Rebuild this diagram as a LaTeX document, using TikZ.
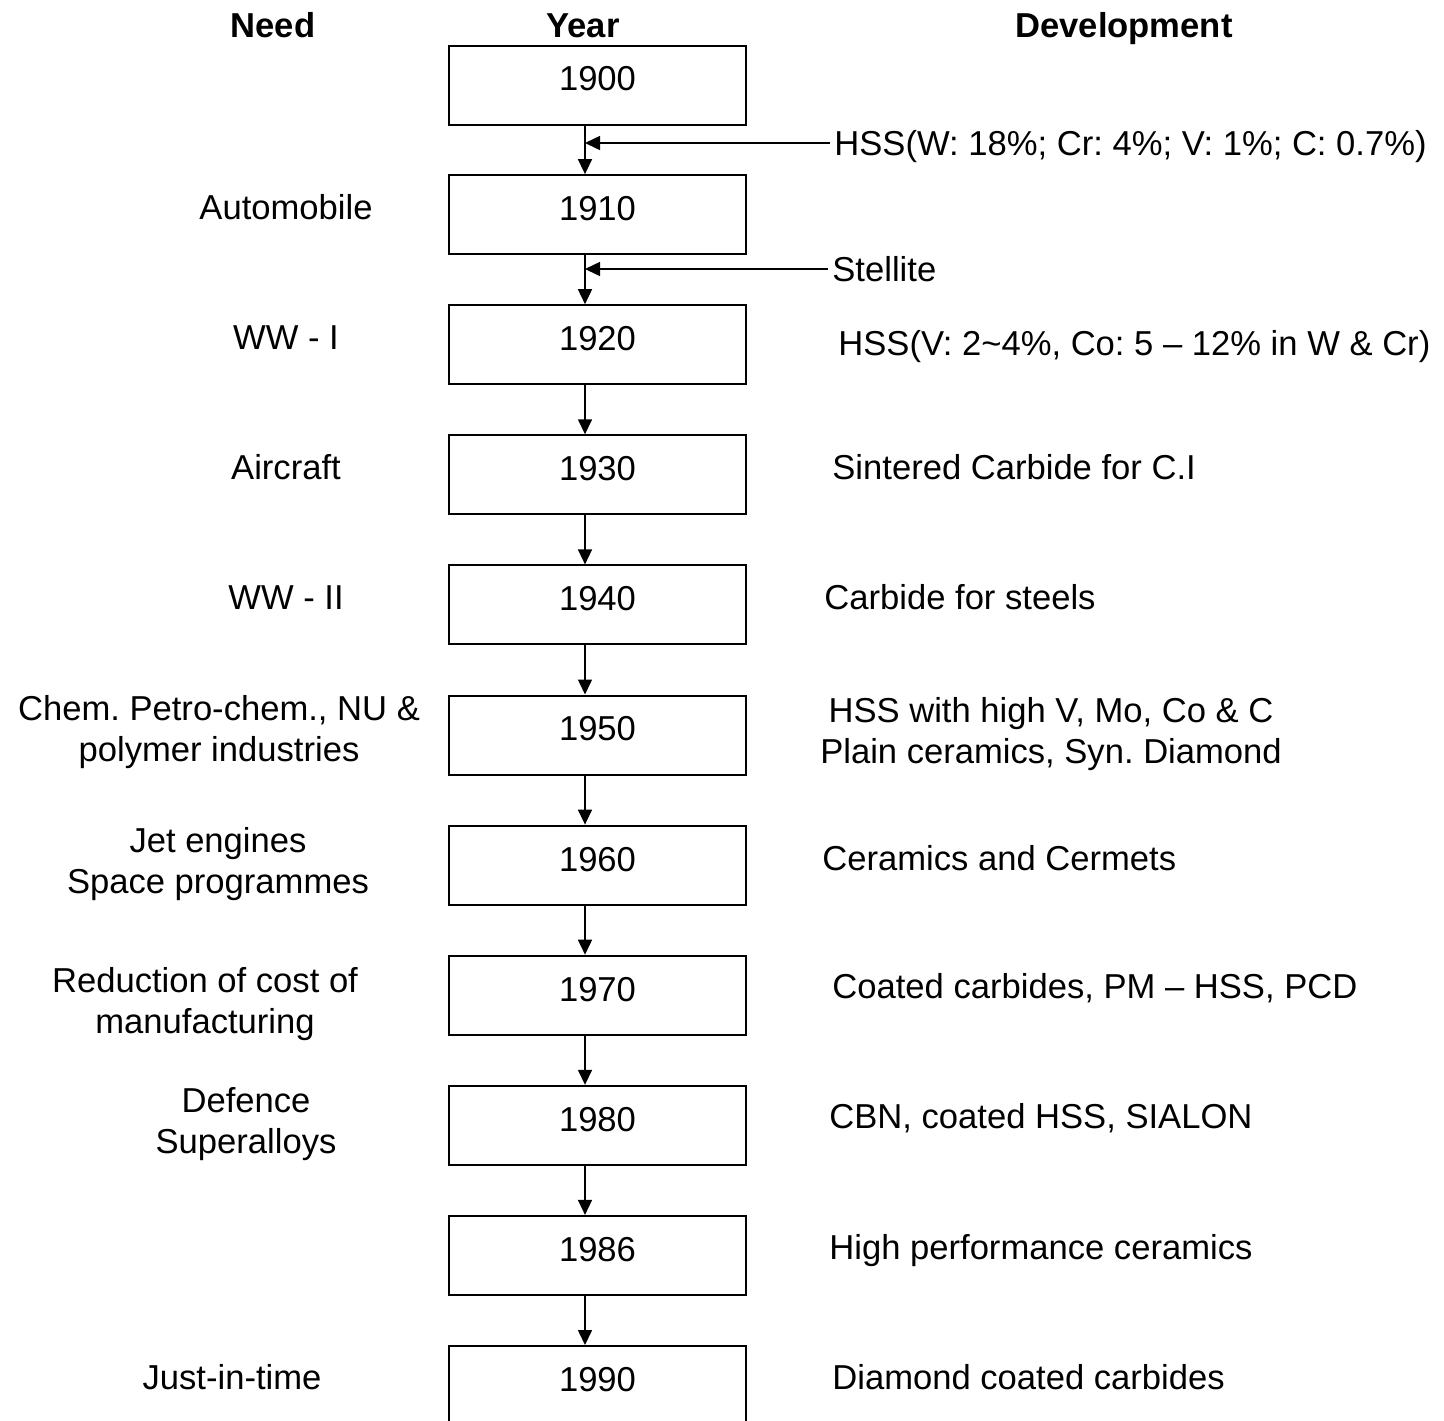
\documentclass[tikz,border=0pt]{standalone}
\usepackage{fontspec}
\setmainfont{Liberation Sans}
\usetikzlibrary{arrows.meta}
\newcommand\diafont{\frenchspacing\fontsize{17.3pt}{20.5pt}\selectfont}
\begin{document}
\frenchspacing
\begin{tikzpicture}[x=0.5pt,y=-0.5pt,
  yearbox/.style={draw,line width=1pt,minimum width=148.5pt,minimum height=39.5pt,inner sep=0pt,text height=12pt,text depth=6.1pt,font=\diafont},
  txt/.style={inner sep=2pt,text height=12.4pt,text depth=0pt,font=\diafont},
  txtl/.style={inner sep=2pt,align=center,font=\diafont},
  head/.style={inner sep=2pt,text height=12.4pt,text depth=0pt,font=\diafont\bfseries},
  arr/.style={line width=0.75pt,-{Triangle[length=7.5pt,width=7pt]}}]
\useasboundingbox (0,0) rectangle (1444,1420);
% headers
\node[head] (hneed) at (273,25) {Need};
\node[head] (hyear) at (583,25) {Year};
\node[head] (hdev) at (1124,25) {Development};
% year boxes
\node[yearbox] (b0) at (597.5,85) {1900};
\node[yearbox] (b1) at (597.5,214.6) {1910};
\node[yearbox] (b2) at (597.5,344.7) {1920};
\node[yearbox] (b3) at (597.5,474.8) {1930};
\node[yearbox] (b4) at (597.5,604.9) {1940};
\node[yearbox] (b5) at (597.5,735) {1950};
\node[yearbox] (b6) at (597.5,865.1) {1960};
\node[yearbox] (b7) at (597.5,995.2) {1970};
\node[yearbox] (b8) at (597.5,1125.3) {1980};
\node[yearbox] (b9) at (597.5,1255.4) {1986};
\node[yearbox] (b10) at (597.5,1385.5) {1990};
\coordinate (col) at (585,0);
% vertical arrows
\foreach \a/\b in {b0/b1,b1/b2,b2/b3,b3/b4,b4/b5,b5/b6,b6/b7,b7/b8,b8/b9,b9/b10}
  \draw[arr] (\a.south -| col) -- (\b.north -| col);
% needs
\node[txt] (n1) at (286,207) {Automobile};
\node[txt] (n2) at (286,337) {WW - I};
\node[txt] (n3) at (286,467) {Aircraft};
\node[txt] (n4) at (286,597) {WW - II};
\node[txtl] (n5) at (219,732) {Chem. Petro-chem., NU \&\\polymer industries};
\node[txtl] (n6) at (218,864) {Jet engines\\Space programmes};
\node[txtl] (n7) at (205,1004) {Reduction of cost of\\manufacturing};
\node[txtl] (n8) at (246,1124) {Defence\\Superalloys};
\node[txt] (n10) at (232,1377) {Just-in-time};
% developments
\node[txt,anchor=west] (d0) at (830,143) {HSS(W: 18\%; Cr: 4\%; V: 1\%; C: 0.7\%)};
\node[txt,anchor=west] (d1) at (828,269) {Stellite};
\node[txt,anchor=west] (d2) at (834,343) {HSS(V: 2\textasciitilde4\%, Co: 5 – 12\% in W \& Cr)};
\node[txt,anchor=west] (d3) at (828,467) {Sintered Carbide for C.I};
\node[txt,anchor=west] (d4) at (820,597) {Carbide for steels};
\node[txtl] (d5) at (1051,734) {HSS with high V, Mo, Co \& C\\Plain ceramics, Syn. Diamond};
\node[txt,anchor=west] (d6) at (818,858) {Ceramics and Cermets};
\node[txt,anchor=west] (d7) at (828,986) {Coated carbides, PM – HSS, PCD};
\node[txt,anchor=west] (d8) at (825,1116) {CBN, coated HSS, SIALON};
\node[txt,anchor=west] (d9) at (825,1247) {High performance ceramics};
\node[txt,anchor=west] (d10) at (828,1377) {Diamond coated carbides};
% side arrows
\draw[arr] (d0.west) -- (d0.west -| col);
\draw[arr] (d1.west) -- (d1.west -| col);
\end{tikzpicture}
\end{document}
